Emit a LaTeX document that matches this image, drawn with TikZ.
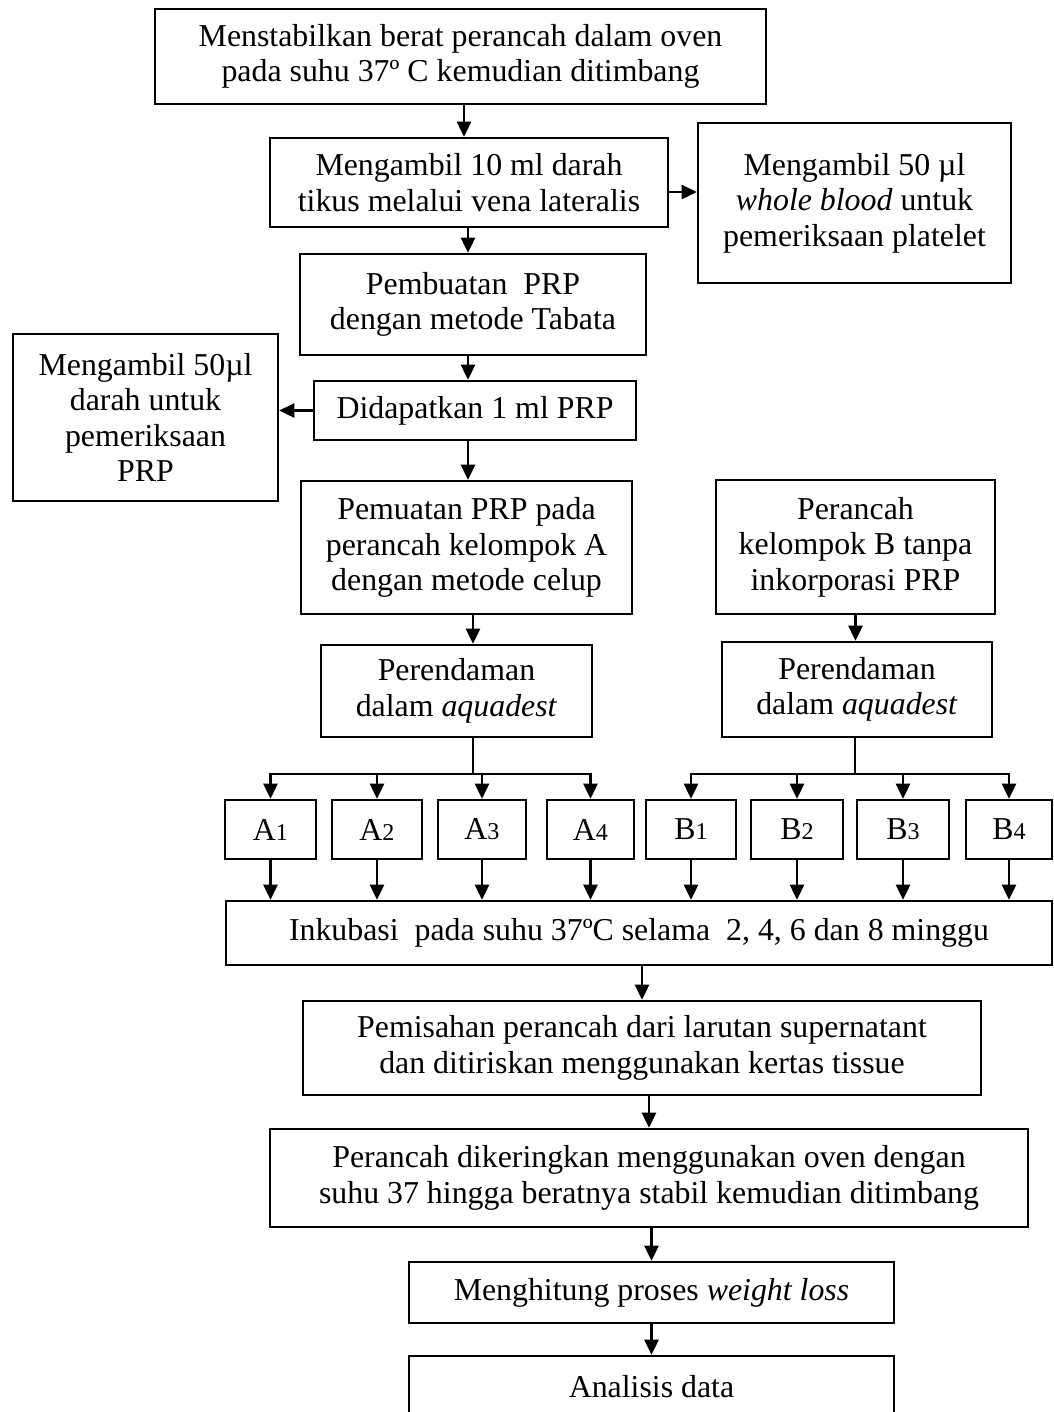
\documentclass[tikz,border=0pt]{standalone}
\usepackage{fontspec}
\setmainfont{Liberation Serif}
\usetikzlibrary{arrows.meta}
\tikzset{
  box/.style={draw, line width=1pt, inner sep=0pt, align=center, font=\fontsize{12.55}{14}\selectfont},
  arr/.style={line width=1pt, -{Triangle[length=6pt,width=5.6pt]}},
  ln/.style={line width=1pt},
}
\newcommand\bx[6]{\node[box, minimum width={(#4-#2)*0.394pt}, minimum height={(#5-#3)*0.394pt}] (#1) at ({(#2+#4)/2},{(#3+#5)/2}) {#6};}
\newcommand\sm[1]{{\fontsize{9.5}{9.5}\selectfont #1}}
\begin{document}
\begin{tikzpicture}[x=0.394pt,y=-0.394pt]
\useasboundingbox (0,0) rectangle (1054,1412);
\clip (0,0) rectangle (1054,1412);
% column / row helper coordinates
\coordinate (c1) at (464,0);
\coordinate (c2) at (468,0);
\coordinate (c3) at (473,0);
\coordinate (r1) at (0,192);
\coordinate (splitA) at (473,774);
\coordinate (splitB) at (855,774);
% boxes
\bx{top}{155}{9}{766}{104}{Menstabilkan berat perancah dalam oven\\pada suhu 37º C kemudian ditimbang}
\bx{box2}{270}{138}{668}{227}{Mengambil 10 ml darah\\tikus melalui vena lateralis}
\bx{plat}{698}{123}{1011}{283}{Mengambil 50 µl\\\textit{whole blood} untuk\\pemeriksaan platelet}
\bx{box3}{300}{254}{646}{355}{Pembuatan\ \ PRP\\dengan metode Tabata}
\bx{box4}{314}{381}{636}{440}{Didapatkan 1 ml PRP}
\bx{leftb}{13}{334}{278}{501}{Mengambil 50µl\\darah untuk\\pemeriksaan\\PRP}
\bx{box5}{301}{481}{632}{614}{Pemuatan PRP pada\\perancah kelompok A\\dengan metode celup}
\bx{boxB}{716}{480}{995}{614}{Perancah\\kelompok B tanpa\\inkorporasi PRP}
\bx{rendA}{321}{645}{592}{737}{Perendaman\\dalam \textit{aquadest}}
\bx{rendB}{722}{642}{992}{737}{Perendaman\\dalam \textit{aquadest}}
\bx{A1}{225}{800}{316}{859}{A\sm{1}}
\bx{A2}{332}{800}{422}{859}{A\sm{2}}
\bx{A3}{438}{800}{526}{859}{A\sm{3}}
\bx{A4}{547}{800}{634}{859}{A\sm{4}}
\bx{B1}{646}{800}{736}{859}{B\sm{1}}
\bx{B2}{751}{800}{843}{859}{B\sm{2}}
\bx{B3}{857}{800}{949}{859}{B\sm{3}}
\bx{B4}{966}{800}{1052}{859}{B\sm{4}}
\bx{incub}{226}{901}{1052}{965}{Inkubasi\ \ pada suhu 37ºC selama\ \ 2, 4, 6 dan 8 minggu}
\bx{pem}{303}{1001}{981}{1095}{Pemisahan perancah dari larutan supernatant\\dan ditiriskan menggunakan kertas tissue}
\bx{ker}{270}{1129}{1028}{1227}{Perancah dikeringkan menggunakan oven dengan\\suhu 37 hingga beratnya stabil kemudian ditimbang}
\bx{hit}{409}{1262}{894}{1323}{Menghitung proses \textit{weight loss}}
\bx{ana}{409}{1356}{894}{1418}{Analisis data}
% connectors
\draw[arr] (top.south -| c1) -- (box2.north -| c1);
\draw[arr] (box2.east |- r1) -- (plat.west |- r1);
\draw[arr] (box2.south -| c2) -- (box3.north -| c2);
\draw[arr] (box3.south -| c2) -- (box4.north -| c2);
\draw[arr] (box4.west) -- (box4.west -| leftb.east);
\draw[arr] (box4.south -| c2) -- (box5.north -| c2);
\draw[arr] (box5.south -| c3) -- (rendA.north -| c3);
\draw[arr] (boxB.south) -- (boxB.south |- rendB.north);
\draw[ln] (rendA.south -| splitA) -- (splitA);
\draw[ln] (rendB.south -| splitB) -- (splitB);
\foreach \n in {A1,A2,A3,A4}{
  \draw[arr] (splitA) -| (\n.north);
  \draw[arr] (\n.south) -- (\n.south |- incub.north);
}
\foreach \n in {B1,B2,B3,B4}{
  \draw[arr] (splitB) -| (\n.north);
  \draw[arr] (\n.south) -- (\n.south |- incub.north);
}
\draw[arr] (pem.north |- incub.south) -- (pem.north);
\draw[arr] (ker.north |- pem.south) -- (ker.north);
\draw[arr] (ker.south -| hit.north) -- (hit.north);
\draw[arr] (hit.south) -- (ana.north);
\end{tikzpicture}
\end{document}
